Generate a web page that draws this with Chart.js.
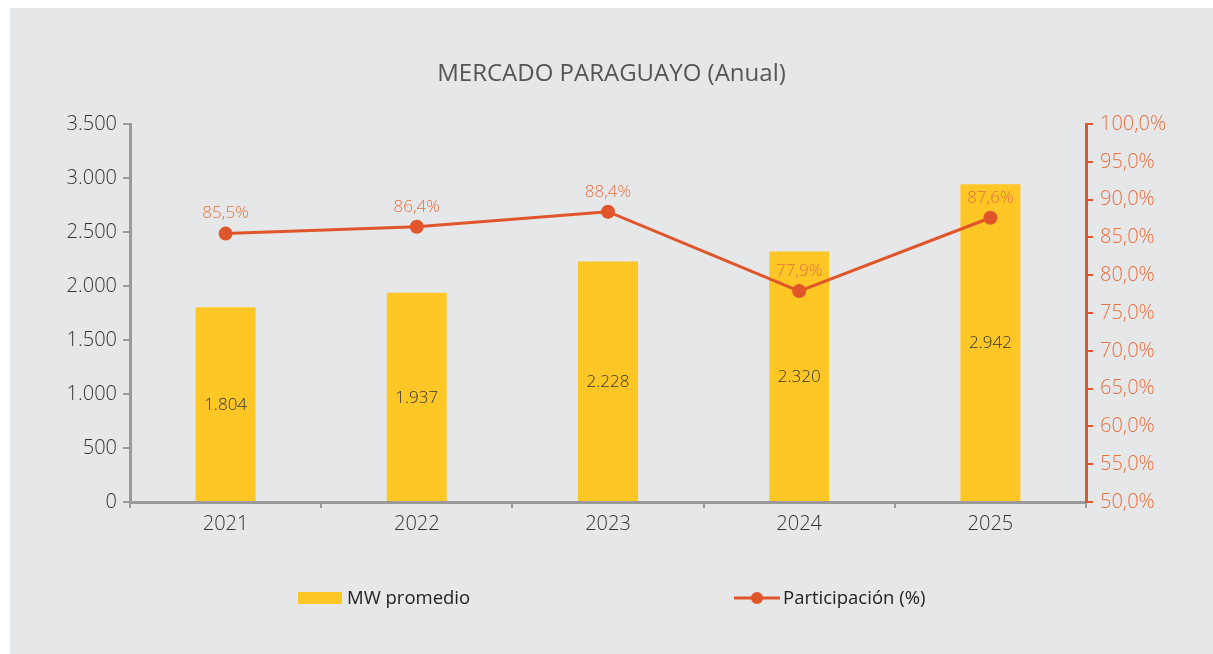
<!DOCTYPE html>
<html>
<head>
<meta charset="utf-8">
<script src="https://cdn.jsdelivr.net/npm/chart.js@4/dist/chart.umd.min.js"></script>
<style>
  html, body { margin: 0; padding: 0; background: #ffffff; }
  #panel { position: absolute; left: 10px; top: 8px; width: 1203px; height: 646px; background: #e6e7e9; }
  #c { position: absolute; left: 0; top: 0; }
  #title { position: absolute; left: 0; width: 1203px; top: 48px; text-align: center;
           font-family: "Open Sans", sans-serif; font-size: 24px; color: #555555; line-height: 32px; }
  .leg { position: absolute; font-family: "Open Sans", sans-serif; font-size: 18.5px; color: #222222; line-height: 24px; white-space: nowrap; }
</style>
</head>
<body>
<div id="panel">
  <canvas id="c" width="1203" height="646"></canvas>
  <div id="title">MERCADO PARAGUAYO (Anual)</div>
  <div class="leg" style="left:288px; top:577px;"><span style="display:inline-block;width:44px;height:12px;background:#ffc726;vertical-align:middle;margin-right:5px;position:relative;top:-1px;"></span><span>MW promedio</span></div>
  <div class="leg" style="left:724px; top:577px;"><svg width="46" height="14" style="vertical-align:middle;margin-right:3px;position:relative;top:-1px;"><line x1="0" y1="7" x2="46" y2="7" stroke="#e0552a" stroke-width="3"/><circle cx="23" cy="7" r="6" fill="#e0552a"/></svg><span>Participación (%)</span></div>
</div>
<script>
const categories = ["2021", "2022", "2023", "2024", "2025"];
const mwPromedio = [1804, 1937, 2228, 2320, 2942];
const participacion = [85.5, 86.4, 88.4, 77.9, 87.6];
const leftTicks = [0, 500, 1000, 1500, 2000, 2500, 3000, 3500];
const rightTicks = [50, 55, 60, 65, 70, 75, 80, 85, 90, 95, 100];

function fmtThousands(v) {
  return String(Math.round(v)).replace(/\B(?=(\d{3})+(?!\d))/g, ".");
}
function fmtPct(v, d) {
  return v.toFixed(d).replace(".", ",") + "%";
}

const labelPlugin = {
  id: "valueLabels",
  afterDatasetsDraw(chart) {
    const ctx = chart.ctx;
    ctx.save();
    ctx.textAlign = "center";
    ctx.textBaseline = "middle";
    ctx.font = "300 17px 'Open Sans', sans-serif";
    const barMeta = chart.getDatasetMeta(1);
    barMeta.data.forEach((el, i) => {
      ctx.fillStyle = "#333333";
      ctx.fillText(fmtThousands(mwPromedio[i]), el.x, (el.y + el.base) / 2 + 1);
    });
    const lineMeta = chart.getDatasetMeta(0);
    lineMeta.data.forEach((el, i) => {
      ctx.fillStyle = "#e8703f";
      ctx.fillText(fmtPct(participacion[i], 1), el.x, el.y - 20);
    });
    ctx.restore();
  }
};

const tickFont = { family: "'Open Sans', sans-serif", size: 20, weight: 300 };

new Chart(document.getElementById("c"), {
  data: {
    labels: categories,
    datasets: [
      {
        type: "line",
        label: "Participación (%)",
        data: participacion,
        yAxisID: "y1",
        borderColor: "#e0552a",
        backgroundColor: "#e0552a",
        borderWidth: 3,
        pointRadius: 7,
        pointHoverRadius: 7,
        pointBackgroundColor: "#e0552a",
        pointBorderWidth: 0,
        tension: 0,
        order: 0
      },
      {
        type: "bar",
        label: "MW promedio",
        data: mwPromedio,
        yAxisID: "y",
        backgroundColor: "#ffc726",
        borderWidth: 0,
        categoryPercentage: 1,
        barPercentage: 0.314,
        order: 1
      }
    ]
  },
  options: {
    responsive: false,
    animation: false,
    events: [],
    layout: { padding: { top: 116, bottom: 0, left: 0, right: 0 } },
    plugins: {
      legend: { display: false },
      title: { display: false },
      tooltip: { enabled: false }
    },
    scales: {
      x: {
        offset: true,
        grid: { display: true, drawOnChartArea: false, drawTicks: true, tickLength: 6, offset: true, color: "#9a9a9a", lineWidth: 2 },
        border: { display: true, color: "#9a9a9a", width: 3 },
        ticks: { color: "#333333", font: tickFont, padding: 4 },
        afterFit(scale) { scale.height = 152; }
      },
      y: {
        position: "left",
        min: 0, max: 3500,
        afterBuildTicks(scale) { scale.ticks = leftTicks.map(v => ({ value: v })); },
        grid: { display: true, drawOnChartArea: false, drawTicks: true, tickLength: 7, color: "#9a9a9a", lineWidth: 2 },
        border: { display: true, color: "#9a9a9a", width: 3 },
        ticks: { color: "#333333", font: tickFont, padding: 6,
                 callback: (v) => fmtThousands(v) },
        afterFit(scale) { scale.width = 120; }
      },
      y1: {
        position: "right",
        min: 50, max: 100,
        afterBuildTicks(scale) { scale.ticks = rightTicks.map(v => ({ value: v })); },
        grid: { display: true, drawOnChartArea: false, drawTicks: true, tickLength: 7, color: "#e0552a", lineWidth: 2 },
        border: { display: true, color: "#e0552a", width: 3 },
        ticks: { color: "#e8703f", font: tickFont, padding: 7,
                 callback: (v) => fmtPct(v, 1) },
        afterFit(scale) { scale.width = 127; }
      }
    }
  },
  plugins: [labelPlugin]
});
</script>
</body>
</html>
